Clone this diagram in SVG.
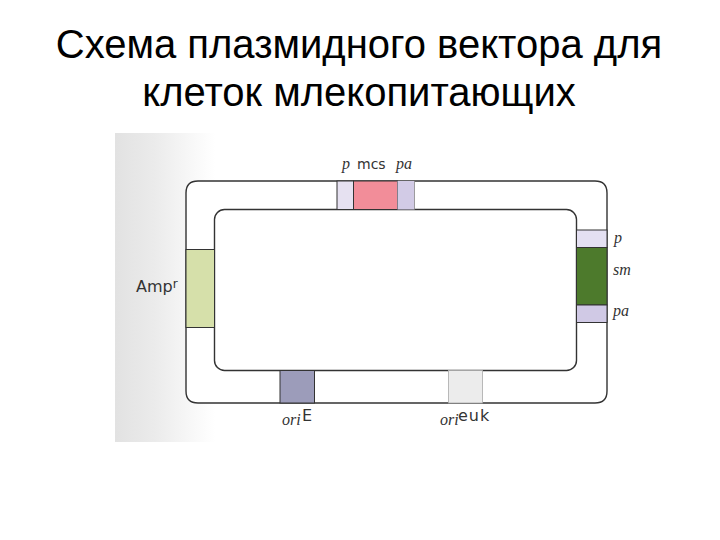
<svg xmlns="http://www.w3.org/2000/svg" width="720" height="540" viewBox="0 0 720 540">
<defs>
<linearGradient id="bg" x1="0" y1="0" x2="1" y2="0">
<stop offset="0" stop-color="#e2e2e2"/>
<stop offset="0.4" stop-color="#ebebeb"/>
<stop offset="0.8" stop-color="#f9f9f9"/>
<stop offset="1" stop-color="#ffffff"/>
</linearGradient>
<style>
.title{font-family:"Liberation Sans",Arial,sans-serif;font-size:40px;fill:#000;text-anchor:middle}
.sans{font-family:"DejaVu Sans","Liberation Sans",sans-serif;fill:#333}
.it{font-family:"Liberation Serif","Times New Roman",serif;font-style:italic;font-size:16px;fill:#333}
.ring{fill:none;stroke:#333;stroke-width:1.4}
.blk{stroke:#333;stroke-width:1}
</style>
</defs>
<rect width="720" height="540" fill="#fff"/>
<text class="title" x="359" y="58">Схема плазмидного вектора для</text>
<text class="title" x="359" y="106">клеток млекопитающих</text>
<rect x="115" y="133" width="100" height="309" fill="url(#bg)"/>
<g id="plasmid">
<path d="M198,181 H595 Q607,181 607,193 V391 Q607,403 595,403 H198 Q186,403 186,391 V193 Q186,181 198,181 Z" fill="#fff" stroke="#333" stroke-width="1.4"/>
<rect class="ring" x="214.5" y="209.5" width="362" height="161" rx="10"/>
</g>
<g id="connectors"></g>
<g id="top-p"><rect class="blk" x="337" y="181" width="16.5" height="28.5" fill="#e6e1f1"/></g>
<g id="top-mcs"><rect class="blk" x="353.5" y="181" width="44" height="28.5" fill="#f28d99"/></g>
<g id="top-pa"><rect x="397.5" y="181" width="17" height="28.5" fill="#d2cbe6"/><line x1="414.5" y1="181" x2="414.5" y2="209.5" stroke="#888" stroke-width="0.8"/></g>
<g id="right-p"><rect class="blk" x="576.5" y="230" width="30.5" height="17.5" fill="#e4e0f2"/></g>
<g id="right-sm"><rect class="blk" x="576.5" y="247.5" width="30.5" height="57.5" fill="#4d7a2c"/></g>
<g id="right-pa"><rect class="blk" x="576.5" y="305" width="30.5" height="17.5" fill="#d0c9e5"/></g>
<g id="amp"><rect class="blk" x="186" y="249.5" width="28.5" height="78" fill="#d6e0aa"/></g>
<g id="oriE"><rect class="blk" x="280" y="370.5" width="34.5" height="32.5" fill="#9c9cba"/></g>
<g id="orieuk"><rect x="448.5" y="370.5" width="34" height="32.5" fill="#ececec" stroke="#aaa" stroke-width="0.8"/></g>
<g id="labels">
<text class="it" x="342" y="169">p</text>
<text class="sans" x="357" y="169" font-size="14">mcs</text>
<text class="it" x="396" y="169">pa</text>
<text class="it" x="614" y="243">p</text>
<text class="it" x="613" y="275">sm</text>
<text class="it" x="613" y="316">pa</text>
<text class="sans" x="136" y="292" font-size="16">Amp<tspan font-size="12" dy="-4">r</tspan></text>
<text class="it" x="282" y="425">ori</text>
<text class="sans" x="302" y="421" font-size="16">E</text>
<text class="it" x="440" y="425">ori</text>
<text class="sans" x="458" y="421" font-size="16" letter-spacing="1">euk</text>
</g>
</svg>
